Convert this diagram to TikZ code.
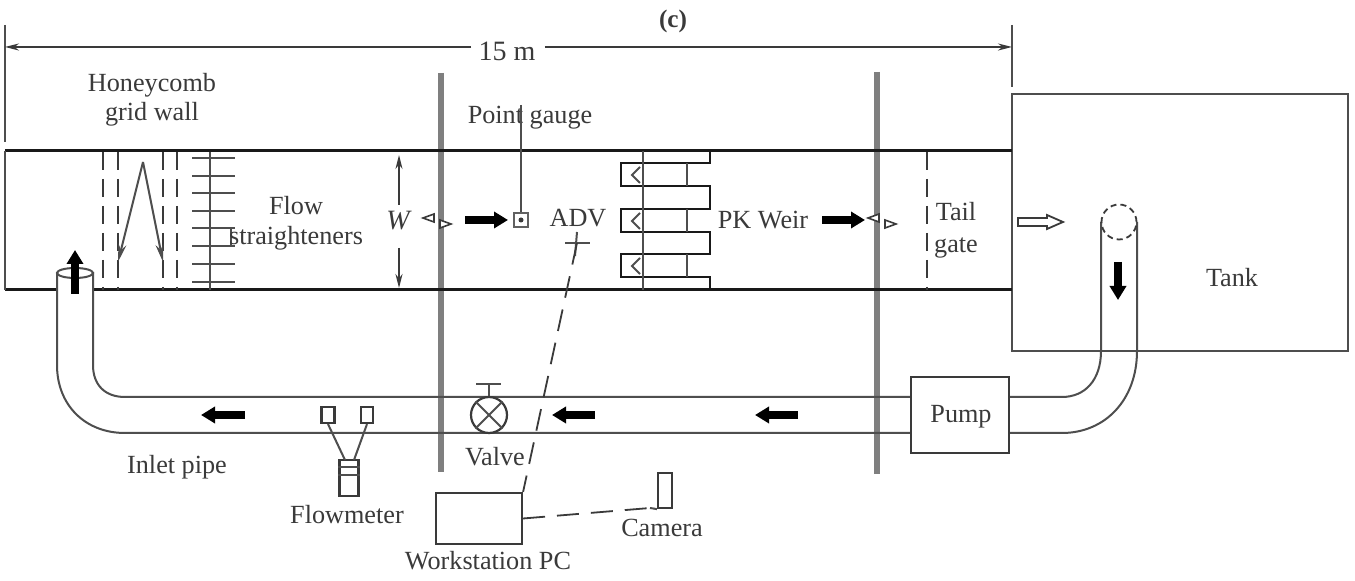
\documentclass[tikz,border=0pt]{standalone}
\usepackage{fontspec}
\setmainfont{Liberation Serif}
\usetikzlibrary{arrows.meta}
\definecolor{ink}{HTML}{3A3A3A}
\definecolor{wallgray}{HTML}{7F7F7F}
\tikzset{
  lbl/.style={font=\fontsize{13.1}{13.1}\selectfont,text=ink,inner sep=0pt,align=center},
  wall/.style={line width=1.5pt,draw=black!90},
  thin line/.style={line width=1pt,draw=ink!90},
  section/.style={line width=2.6pt,draw=wallgray},
  hatch/.style={line width=1pt,draw=ink,dash pattern=on 9pt off 4.5pt},
  link/.style={line width=0.9pt,draw=ink,dash pattern=on 11pt off 6pt},
  flow/.style={line width=4pt,draw=black,-{Triangle[length=7pt,width=8pt]}},
  box/.style={draw=ink,line width=1.1pt,inner sep=0pt,fill=white},
  dim/.style={line width=0.9pt,draw=ink,-{Stealth[length=7pt,width=3.5pt]}},
  secmark/.style={line width=0.8pt,draw=ink,fill=white}
}
\begin{document}
\begin{tikzpicture}[x=0.5pt,y=-0.5pt]
\useasboundingbox (0,0) rectangle (1355,581);
\fill[white] (0,0) rectangle (1355,581);

% coordinates
\coordinate (dimL) at (5,47); \coordinate (dimR) at (1012,47);
\coordinate (chTL) at (5,151); \coordinate (chBL) at (5,290);
\coordinate (chTR) at (1012,151); \coordinate (chBR) at (1012,290);

% section walls
\draw[section] (441,73) -- (441,472);
\draw[section] (877,72) -- (877,474);

% tank and ticks
\draw[thin line] (1012,94) rectangle (1348,351);
\draw[thin line] (5,25) -- (5,142);
\draw[thin line] (1012,25) -- (1012,87);

% dimension
\node[lbl,font=\fontsize{14}{14}\selectfont] (dimtext) at (507,51) {15 m};
\draw[dim] (dimtext.west) ++(-7,-4) -- (dimL);
\draw[dim] (dimtext.east) ++(9,-4) -- (dimR);

% channel
\draw[wall] (chTL) -- (chTR);
\draw[wall] (chBL) -- (57,290);
\draw[wall] (93,290) -- (chBR);
\draw[thin line] (chTL) -- (chBL);

% honeycomb
\foreach \xx in {103,118,163,177}
  \draw[hatch] (\xx,152) -- (\xx,290);
\coordinate (zig) at (143,162);
\draw[thin line,-{Stealth[length=9pt,width=4pt]}] (zig) -- (118,262);
\draw[thin line,-{Stealth[length=9pt,width=4pt]}] (zig) -- (163,262);

% straighteners
\draw[thin line] (210,152) -- (210,290);
\foreach \yy in {158,176,193,211,228,246,264,282}
  \draw[thin line] (192,\yy) -- (235,\yy);
\draw[thin line] (231,228) -- (231,246);

% width
\node[lbl,font=\fontsize{14}{14}\itshape] (wlab) at (398,221) {W};
\draw[dim] (399,205) -- (399,155);
\draw[dim] (399,248) -- (399,288);

% section marks
\foreach \xx in {436,881}{
  \draw[secmark] (\xx-13,218) -- (\xx-2,214) -- (\xx-2,222) -- cycle;
  \draw[secmark] (\xx+15,224) -- (\xx+4,220) -- (\xx+4,228) -- cycle;
}

% point gauge
\node[lbl] (gaugetext) at (530,118) {Point gauge};
\node[box,draw=ink!80,minimum width=7pt,minimum height=7pt] (gauge) at (521,220) {};
\fill[ink] (gauge.center) circle (2.5);
\draw[thin line] (521,105) -- (gauge.north);
\coordinate (f1a) at (465,220);
\draw[flow] (f1a) -- (508,220);

% ADV
\node[lbl] (advtext) at (578,218) {ADV};
\coordinate (adv) at (577,243);
\draw[thin line] (565,243) -- (590,243);
\draw[thin line] (577,232) -- (575,256);

% PK weir
\begin{scope}[line width=1.3pt,draw=black!90]
  \draw (710,151) -- (710,163) -- (621,163) -- (621,186) -- (710,186) -- (710,209)
        -- (621,209) -- (621,232) -- (710,232) -- (710,254) -- (621,254) -- (621,277)
        -- (710,277) -- (710,290);
\end{scope}
\draw[thin line] (643,151) -- (643,290);
\foreach \yy in {163,209,254}{
  \draw[thin line] (687,\yy) -- (687,\yy+23);
  \draw[thin line] (640,\yy+4) -- (632,\yy+12) -- (640,\yy+20);
}
\node[lbl] (pktext) at (763,220) {PK Weir};
\coordinate (f2a) at (822,220);
\draw[flow] (f2a) -- (865,220);

% tail gate
\draw[hatch] (927,152) -- (927,290);
\node[lbl] (tailtext) at (956,230) {Tail\\[3pt]gate};
\draw[secmark,line width=0.9pt] (1018,218) -- (1047,218) -- (1047,215) -- (1063,222) -- (1047,229) -- (1047,226) -- (1018,226) -- cycle;

% right side pipe and pump
\node[lbl] (tanktext) at (1232,278) {Tank};
\node[box,minimum width=49pt,minimum height=38pt] (pump) at (960,415) {};
\node[lbl] at (961,417) {Pump};
\draw[thin line] (1101,222) -- (1101,351) .. controls (1101,380) and (1085,397) .. (1062,397) -- (pump.east |- 0,397);
\draw[thin line] (1137,222) -- (1137,351) .. controls (1137,400) and (1105,433) .. (1062,433) -- (pump.east |- 0,433);
\node[circle,draw=ink,densely dashed,line width=0.9pt,minimum size=17.5pt,inner sep=0pt] (outlet) at (1119,222) {};
\coordinate (f3a) at (1118,262);
\draw[flow] (f3a) -- (1118,300);

% long pipe
\draw[thin line] (pump.west |- 0,397) -- (125,397) .. controls (105,397) and (93,385) .. (93,365) -- (93,272);
\draw[thin line] (pump.west |- 0,433) -- (125,433) .. controls (85,433) and (57,405) .. (57,365) -- (57,272);
\draw[thin line] (75,273) ellipse (18 and 5);
\coordinate (f4a) at (75,294);
\draw[flow] (f4a) -- (75,250);
\coordinate (f5a) at (245,415); \draw[flow] (f5a) -- (201,415);
\coordinate (f6a) at (595,415); \draw[flow] (f6a) -- (552,415);
\coordinate (f7a) at (798,415); \draw[flow] (f7a) -- (755,415);

% valve
\node[circle,draw=ink,line width=1.1pt,fill=white,minimum size=18pt,inner sep=0pt] (valve) at (489,415) {};
\draw[thin line] (valve.north west) -- (valve.south east);
\draw[thin line] (valve.north east) -- (valve.south west);
\draw[thin line] (valve.north) -- (489,384);
\draw[thin line] (476,384) -- (501,384);
\node[lbl] (valvetext) at (495,457) {Valve};

% flowmeter
\node[box,minimum width=6.5pt,minimum height=8pt] (fmL) at (328,415) {};
\node[box,minimum width=6pt,minimum height=8pt] (fmR) at (367,415) {};
\node[box,line width=1.4pt,minimum width=9.5pt,minimum height=18pt] (fmB) at (349,478) {};
\draw[thin line] (fmL.south) -- (345,460);
\draw[thin line] (fmR.south) -- (354,460);
\draw[thin line] (fmB.west |- 0,467) -- (fmB.east |- 0,467);
\draw[thin line] (fmB.west |- 0,475) -- (fmB.east |- 0,475);
\node[lbl] (fmtext) at (347,515) {Flowmeter};

% workstation and camera
\node[box,minimum width=43pt,minimum height=25.5pt] (pc) at (479,518.5) {};
\node[lbl] (pctext) at (488,561) {Workstation PC};
\node[box,minimum width=7pt,minimum height=17.5pt] (cam) at (665,490.5) {};
\coordinate (camfoot) at (650,508);
\draw[thin line] (camfoot) -- (cam.south west);
\node[lbl] (camtext) at (662,528) {Camera};
\draw[link] (adv) -- (pc.north east);
\draw[link] (pc.east) -- (camfoot);

% labels
\node[lbl,font=\fontsize{12.6}{13}\bfseries] (ctitle) at (673,21) {(c)};
\node[lbl] (honey) at (152,100) {Honeycomb\\[1.5pt]grid wall};
\node[lbl] (flowtext) at (296,223) {Flow\\[2pt]straighteners};
\node[lbl] (inlet) at (177,467) {Inlet pipe};
\end{tikzpicture}
\end{document}
